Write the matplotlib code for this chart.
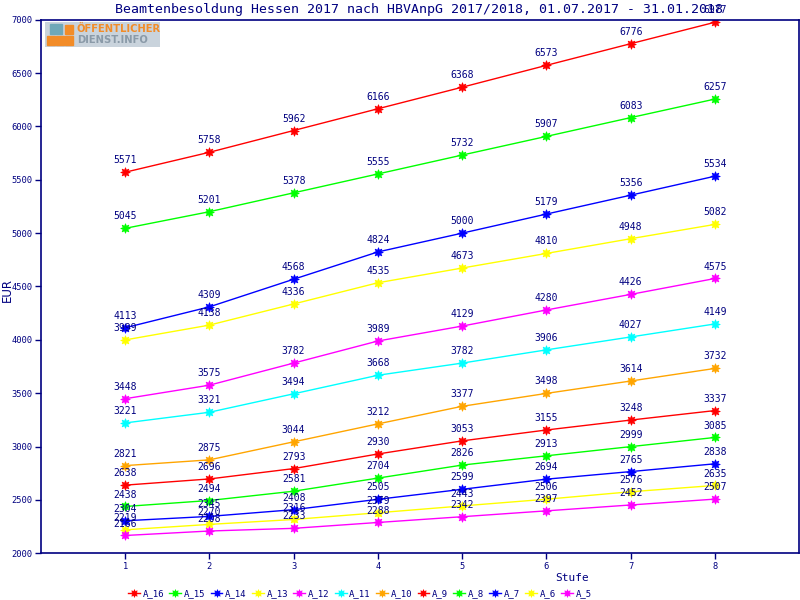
import matplotlib
matplotlib.use('Agg')
import matplotlib.pyplot as plt
from matplotlib.patches import Rectangle

stufen = [1, 2, 3, 4, 5, 6, 7, 8]
gruppen = ['A_16', 'A_15', 'A_14', 'A_13', 'A_12', 'A_11', 'A_10', 'A_9', 'A_8', 'A_7', 'A_6', 'A_5']
farben = ['#ff0000', '#00ff00', '#0000ff', '#ffff00', '#ff00ff', '#00ffff', '#ffa500',
          '#ff0000', '#00ff00', '#0000ff', '#ffff00', '#ff00ff']

a16 = [5571, 5758, 5962, 6166, 6368, 6573, 6776, 6977]
a15 = [5045, 5201, 5378, 5555, 5732, 5907, 6083, 6257]
a14 = [4113, 4309, 4568, 4824, 5000, 5179, 5356, 5534]
a13 = [3999, 4138, 4336, 4535, 4673, 4810, 4948, 5082]
a12 = [3448, 3575, 3782, 3989, 4129, 4280, 4426, 4575]
a11 = [3221, 3321, 3494, 3668, 3782, 3906, 4027, 4149]
a10 = [2821, 2875, 3044, 3212, 3377, 3498, 3614, 3732]
a9 = [2638, 2696, 2793, 2930, 3053, 3155, 3248, 3337]
a8 = [2438, 2494, 2581, 2704, 2826, 2913, 2999, 3085]
a7 = [2304, 2345, 2408, 2505, 2599, 2694, 2765, 2838]
a6 = [2219, 2270, 2316, 2379, 2443, 2506, 2576, 2635]
a5 = [2166, 2208, 2233, 2288, 2342, 2397, 2452, 2507]
werte = [a16, a15, a14, a13, a12, a11, a10, a9, a8, a7, a6, a5]

navy = '#000080'
mono = 'DejaVu Sans Mono'

fig = plt.figure(figsize=(8, 6), dpi=100)
ax = fig.add_axes([0.051, 0.078, 0.948, 0.889])

for name, farbe, y in zip(gruppen, farben, werte):
    ax.plot(stufen, y, color=farbe, lw=1, marker=(8, 1, 0), markersize=7,
            markeredgewidth=0.5, label=name)
    for xi, yi in zip(stufen, y):
        ax.annotate(str(yi), (xi, yi), xytext=(0, 5), textcoords='offset points',
                    ha='center', va='bottom', fontsize=7, color=navy, family=mono)

ax.set_xlim(0, 9)
ax.set_ylim(2000, 7000)
ax.set_xticks(stufen)
ax.set_yticks(range(2000, 7001, 500))
ax.tick_params(colors=navy, labelsize=6.3, direction='out', length=4, width=1, pad=2)
for lab in ax.get_xticklabels() + ax.get_yticklabels():
    lab.set_family(mono)
for sp in ax.spines.values():
    sp.set_color(navy)
    sp.set_linewidth(1.2)

fig.text(0.524, 0.984, 'Beamtenbesoldung Hessen 2017 nach HBVAnpG 2017/2018, 01.07.2017 - 31.01.2018',
         ha='center', va='center', fontsize=9.5, color=navy, family=mono)
fig.text(0.009, 0.517, 'EUR', rotation=90, ha='center', va='center', fontsize=8.5, color=navy)
fig.text(0.715, 0.037, 'Stufe', ha='center', va='center', fontsize=8, color=navy, family=mono)

# logo
logo = fig.add_axes([0.056, 0.922, 0.144, 0.042])
logo.set_xlim(0, 115)
logo.set_ylim(0, 25)
logo.axis('off')
logo.add_patch(Rectangle((0, 0), 115, 25, color='#c9d3dc'))
for i in range(3):
    logo.add_patch(Rectangle((2 + i * 9, 2), 8, 9, color='#f28c28'))
logo.add_patch(Rectangle((20, 13), 8, 9, color='#f28c28'))
logo.add_patch(Rectangle((5, 13), 12, 10, color='#6fa8b8'))
logo.text(32, 18, 'ÖFFENTLICHER', fontsize=7.2, color='#f28c28', weight='bold', va='center')
logo.text(32, 7, 'DIENST.INFO', fontsize=7.2, color='#8a9aa8', weight='bold', va='center')

leg = fig.legend(loc='center', bbox_to_anchor=(0.45, 0.01), ncol=12, frameon=False,
                 fontsize=6.5, handlelength=1.3, columnspacing=0.6, handletextpad=0.3,
                 markerscale=0.8)
for t in leg.get_texts():
    t.set_color(navy)
    t.set_family(mono)

fig.savefig('out.png', dpi=100)
